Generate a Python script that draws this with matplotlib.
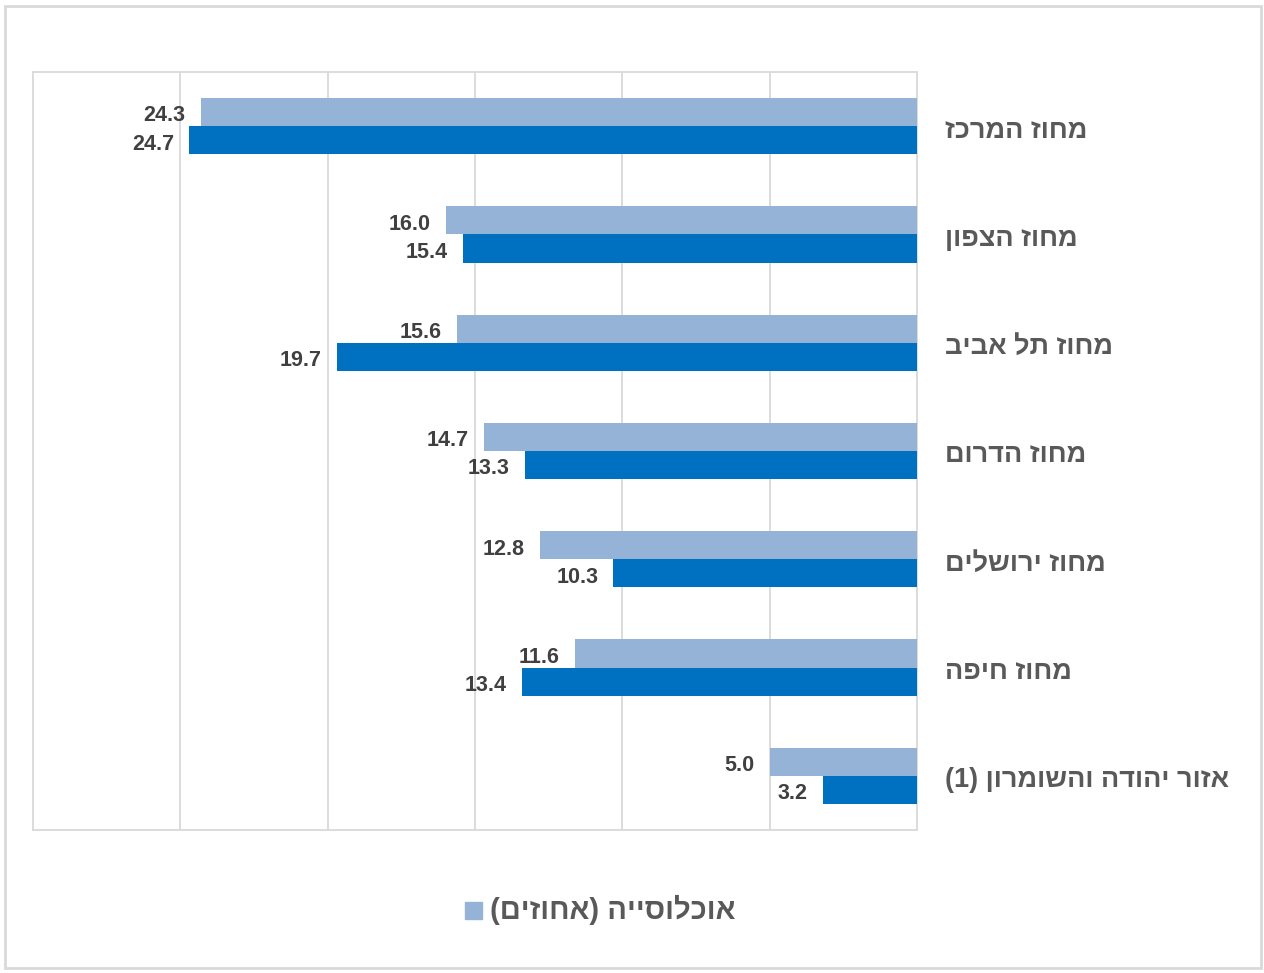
import matplotlib.pyplot as plt
import numpy as np
from matplotlib.patches import Rectangle

plt.rcParams['font.family'] = ['Liberation Sans', 'DejaVu Sans']

districts = ['מחוז המרכז', 'מחוז הצפון', 'מחוז תל אביב', 'מחוז הדרום',
             'מחוז ירושלים', 'מחוז חיפה', 'אזור יהודה והשומרון (1)']
population = [24.3, 16.0, 15.6, 14.7, 12.8, 11.6, 5.0]
second = [24.7, 15.4, 19.7, 13.3, 10.3, 13.4, 3.2]
legend_label = 'אוכלוסייה (אחוזים)'


def visual(s):
    # matplotlib lays text out left to right, so flip Hebrew and mirror brackets
    out = s[::-1]
    return out.translate(str.maketrans('()', ')('))


fig = plt.figure(figsize=(12.64, 9.73), dpi=100)
ax = fig.add_axes([33 / 1264, 1 - 830 / 973, 884 / 1264, 758 / 973])

y = np.arange(len(districts))
h = 0.26
light = ax.barh(y - h / 2, population, height=h, color='#95B3D7', zorder=3)
dark = ax.barh(y + h / 2, second, height=h, color='#0070C0', zorder=3)

ax.set_xlim(30, 0)
ax.set_ylim(len(districts) - 0.5, -0.5)
ax.set_xticks([5, 10, 15, 20, 25])
ax.xaxis.grid(True, color='#D9D9D9', linewidth=1.3, zorder=0)
ax.tick_params(left=False, bottom=False, labelleft=False, labelbottom=False)
for sp in ax.spines.values():
    sp.set_color('#D9D9D9')
    sp.set_linewidth(1.3)

for bars, vals in ((light, population), (dark, second)):
    for b, v in zip(bars, vals):
        ax.annotate(f'{v:.1f}', (v, b.get_y() + b.get_height() / 2),
                    xytext=(-11, -1), textcoords='offset points',
                    ha='right', va='center_baseline', fontsize=15.5,
                    fontweight='bold', color='#404040')

for i, name in enumerate(districts):
    ax.annotate(visual(name), (0, i), xycoords=('axes fraction', 'data'),
                xytext=(945 / 1264, -1), textcoords=('figure fraction', 'offset points'),
                ha='left', va='center_baseline', fontsize=19.5, fontweight='bold',
                color='#595959', annotation_clip=False)

# legend with the single named series
fig.patches.append(Rectangle((465 / 1264, 1 - 919 / 973), 17 / 1264, 17 / 973,
                             transform=fig.transFigure, color='#95B3D7'))
fig.text(490 / 1264, 1 - 910 / 973, visual(legend_label), ha='left', va='center',
         fontsize=21, fontweight='bold', color='#595959')

fig.patches.append(Rectangle((5 / 1264, 5 / 973), 1256 / 1264, 962 / 973,
                             transform=fig.transFigure, fill=False,
                             edgecolor='#D9D9D9', linewidth=2))

fig.savefig('out.png', dpi=100, facecolor='white')
